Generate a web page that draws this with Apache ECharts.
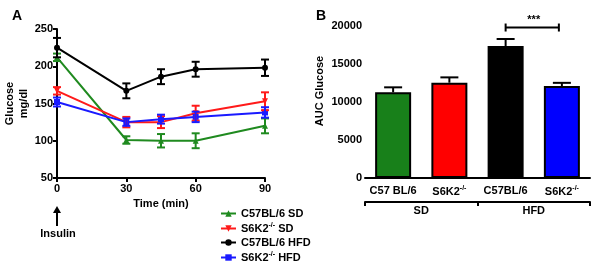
<!DOCTYPE html>
<html>
<head>
<meta charset="utf-8">
<script src="https://cdn.jsdelivr.net/npm/echarts@6/dist/echarts.min.js"></script>
<style>
  html, body { margin: 0; padding: 0; background: #fff; }
  #main { width: 600px; height: 271px; }
</style>
</head>
<body>
<div id="main"></div>
<script>
// panel A: glucose tolerance over time
const times = [0, 30, 45, 60, 90];
const c57SD = [212, 101, 100, 100, 120];
const c57SDErr = [5, 5, 9, 10, 10];
const s6SD = [167, 125, 125, 137, 153];
const s6SDErr = [5, 7, 8, 10, 12];
const c57HFD = [225, 167, 186, 196, 198];
const c57HFDErr = [13, 10, 10, 10, 11];
const s6HFD = [152, 125, 129, 132, 138];
const s6HFDErr = [6, 5, 6, 7, 7];

// panel B: AUC
const aucCats = ['C57 BL/6', 'S6K2-/-', 'C57BL/6', 'S6K2-/-'];
const aucValues = [11280, 12540, 17370, 12100];
const aucErr = [650, 700, 920, 420];
const aucColors = ['#18801a', '#ff0000', '#000000', '#0000ff'];
const dietGroups = ['SD', 'HFD'];

const font = 'Liberation Sans, Arial, sans-serif';
const myChart = echarts.init(document.getElementById('main'));

function supFmt(s) {
  let i = s.indexOf('-/-');
  if (i < 0) return '{n|' + s + '}';
  let rest = s.slice(i + 3);
  return '{n|' + s.slice(0, i) + '}{sup|-/-}' + (rest ? '{n|' + rest + '}' : '');
}
function richSet(size) {
  return {
    n: { fontSize: size, fontWeight: 'bold', fontFamily: font, color: '#000' },
    sup: { fontSize: 7, fontWeight: 'bold', fontFamily: font, color: '#000', padding: [0, 0, 6, 0] }
  };
}

function lineSeries(name, vals, color, symbol) {
  return {
    name: name,
    type: 'line',
    xAxisIndex: 0,
    yAxisIndex: 0,
    data: times.map((t, i) => [t, vals[i]]),
    symbol: symbol,
    symbolSize: 6,
    lineStyle: { width: 2, color: color },
    itemStyle: { color: color },
    z: 3
  };
}
function errSeries(vals, errs, color) {
  return {
    type: 'custom',
    xAxisIndex: 0,
    yAxisIndex: 0,
    data: times.map((t, i) => [t, vals[i], errs[i]]),
    renderItem: function (params, api) {
      let x = api.value(0), y = api.value(1), e = api.value(2);
      let top = api.coord([x, y + e]);
      let bot = api.coord([x, y - e]);
      let st = { stroke: color, lineWidth: 2 };
      return {
        type: 'group',
        children: [
          { type: 'line', shape: { x1: top[0], y1: top[1], x2: bot[0], y2: bot[1] }, style: st },
          { type: 'line', shape: { x1: top[0] - 4, y1: top[1], x2: top[0] + 4, y2: top[1] }, style: st },
          { type: 'line', shape: { x1: bot[0] - 4, y1: bot[1], x2: bot[0] + 4, y2: bot[1] }, style: st }
        ]
      };
    },
    z: 4,
    silent: true
  };
}

const axisBase = {
  axisLine: { lineStyle: { color: '#000', width: 2 } },
  axisTick: { length: 4, lineStyle: { color: '#000', width: 2 } },
  splitLine: { show: false },
  axisLabel: { color: '#000', fontSize: 11, fontWeight: 'bold', fontFamily: font }
};

myChart.setOption({
  animation: false,
  backgroundColor: '#fff',
  title: [
    { text: 'A', left: 7, top: 4, textStyle: { fontSize: 14, fontWeight: 'bold', fontFamily: font, color: '#000' } },
    { text: 'B', left: 311, top: 4, textStyle: { fontSize: 14, fontWeight: 'bold', fontFamily: font, color: '#000' } }
  ],
  legend: {
    data: ['C57BL/6 SD', 'S6K2-/- SD', 'C57BL/6 HFD', 'S6K2-/- HFD'],
    orient: 'vertical',
    left: 215,
    top: 203,
    itemWidth: 15,
    itemHeight: 8,
    itemGap: 3,
    formatter: supFmt,
    textStyle: { fontSize: 11, fontWeight: 'bold', fontFamily: font, color: '#000', rich: richSet(11) }
  },
  grid: [
    { left: 57, top: 29, width: 208, height: 149 },
    { left: 365, top: 26, right: 10, height: 152 }
  ],
  xAxis: [
    Object.assign({}, axisBase, {
      type: 'value', gridIndex: 0, min: 0, max: 90, interval: 30,
      name: 'Time (min)', nameLocation: 'middle', nameGap: 20,
      nameTextStyle: { fontSize: 11, fontWeight: 'bold', fontFamily: font, color: '#000' },
      axisLabel: Object.assign({}, axisBase.axisLabel, { margin: 5 })
    }),
    Object.assign({}, axisBase, {
      type: 'category', gridIndex: 1, data: aucCats,
      axisTick: { length: 4, interval: 0, alignWithLabel: true, lineStyle: { color: '#000', width: 2 } },
      axisLabel: { margin: 7, interval: 0, hideOverlap: false, formatter: supFmt, rich: richSet(11) }
    }),
    Object.assign({}, axisBase, {
      type: 'category', gridIndex: 1, data: dietGroups, position: 'bottom', offset: 24,
      axisTick: { show: true, interval: 0, length: 4, lineStyle: { color: '#000', width: 2 } },
      axisLabel: Object.assign({}, axisBase.axisLabel, { margin: 3, interval: 0 })
    })
  ],
  yAxis: [
    Object.assign({}, axisBase, {
      type: 'value', gridIndex: 0, min: 50, max: 250, interval: 50,
      name: 'Glucose\nmg/dl', nameLocation: 'middle', nameGap: 25, nameRotate: 90,
      nameTextStyle: { fontSize: 11, fontWeight: 'bold', fontFamily: font, color: '#000', lineHeight: 14 },
      axisLabel: Object.assign({}, axisBase.axisLabel, { margin: 4 })
    }),
    Object.assign({}, axisBase, {
      type: 'value', gridIndex: 1, min: 0, max: 20000, interval: 5000,
      name: 'AUC Glucose', nameLocation: 'middle', nameGap: 40, nameRotate: 90,
      nameTextStyle: { fontSize: 11, fontWeight: 'bold', fontFamily: font, color: '#000', padding: [0, 0, 0, 22] },
      axisLabel: Object.assign({}, axisBase.axisLabel, { margin: 3, fontSize: 11, formatter: (v) => String(v) })
    })
  ],
  series: [
    lineSeries('C57BL/6 SD', c57SD, '#1f8a1f', 'triangle'),
    errSeries(c57SD, c57SDErr, '#1f8a1f'),
    lineSeries('S6K2-/- SD', s6SD, '#ff1a1a', 'path://M-1,-1L1,-1L0,1Z'),
    errSeries(s6SD, s6SDErr, '#ff1a1a'),
    lineSeries('C57BL/6 HFD', c57HFD, '#000000', 'circle'),
    errSeries(c57HFD, c57HFDErr, '#000000'),
    lineSeries('S6K2-/- HFD', s6HFD, '#1a1aff', 'rect'),
    errSeries(s6HFD, s6HFDErr, '#1a1aff'),
    {
      type: 'bar',
      xAxisIndex: 1,
      yAxisIndex: 1,
      barWidth: 36,
      data: aucValues.map((v, i) => ({ value: v, itemStyle: { color: aucColors[i] } })),
      itemStyle: { borderColor: '#000', borderWidth: 2 },
      z: 2
    },
    {
      type: 'custom',
      xAxisIndex: 1,
      yAxisIndex: 1,
      data: aucValues.map((v, i) => [i, v, aucErr[i]]),
      renderItem: function (params, api) {
        let i = api.value(0), v = api.value(1), e = api.value(2);
        let top = api.coord([i, v + e]);
        let base = api.coord([i, v]);
        let st = { stroke: '#000', lineWidth: 2 };
        return {
          type: 'group',
          children: [
            { type: 'line', shape: { x1: top[0], y1: top[1], x2: base[0], y2: base[1] }, style: st },
            { type: 'line', shape: { x1: top[0] - 9, y1: top[1], x2: top[0] + 9, y2: top[1] }, style: st }
          ]
        };
      },
      z: 5,
      silent: true
    },
    {
      // significance bracket between HFD groups
      type: 'custom',
      xAxisIndex: 1,
      yAxisIndex: 1,
      data: [[2, 3, 19800]],
      renderItem: function (params, api) {
        let a = api.coord([api.value(0), api.value(2)]);
        let b = api.coord([api.value(1), api.value(2)]);
        let st = { stroke: '#000', lineWidth: 2 };
        return {
          type: 'group',
          children: [
            { type: 'line', shape: { x1: a[0], y1: a[1], x2: b[0] - 3, y2: b[1] }, style: st },
            { type: 'line', shape: { x1: a[0], y1: a[1] - 4, x2: a[0], y2: a[1] + 4 }, style: st },
            { type: 'line', shape: { x1: b[0] - 3, y1: b[1] - 4, x2: b[0] - 3, y2: b[1] + 4 }, style: st },
            { type: 'text', style: { text: '***', x: (a[0] + b[0]) / 2, y: a[1] - 2, textAlign: 'center', textVerticalAlign: 'bottom', fontSize: 11, fontWeight: 'bold', fontFamily: font, fill: '#000' } }
          ]
        };
      },
      z: 5,
      silent: true
    }
  ]
});

// insulin arrow under t = 0
let p0 = myChart.convertToPixel({ gridIndex: 0 }, [0, 50]);
myChart.setOption({
  graphic: [
    { type: 'line', shape: { x1: p0[0], y1: p0[1] + 34, x2: p0[0], y2: p0[1] + 48 }, style: { stroke: '#000', lineWidth: 2 } },
    { type: 'polygon', shape: { points: [[p0[0] - 4, p0[1] + 35], [p0[0] + 4, p0[1] + 35], [p0[0], p0[1] + 28]] }, style: { fill: '#000' } },
    { type: 'text', style: { text: 'Insulin', x: p0[0] + 1, y: p0[1] + 56, textAlign: 'center', textVerticalAlign: 'middle', fontSize: 11, fontWeight: 'bold', fontFamily: font, fill: '#000' } }
  ]
});
window.addEventListener('resize', () => {
  myChart.resize();
});
</script>
</body>
</html>
